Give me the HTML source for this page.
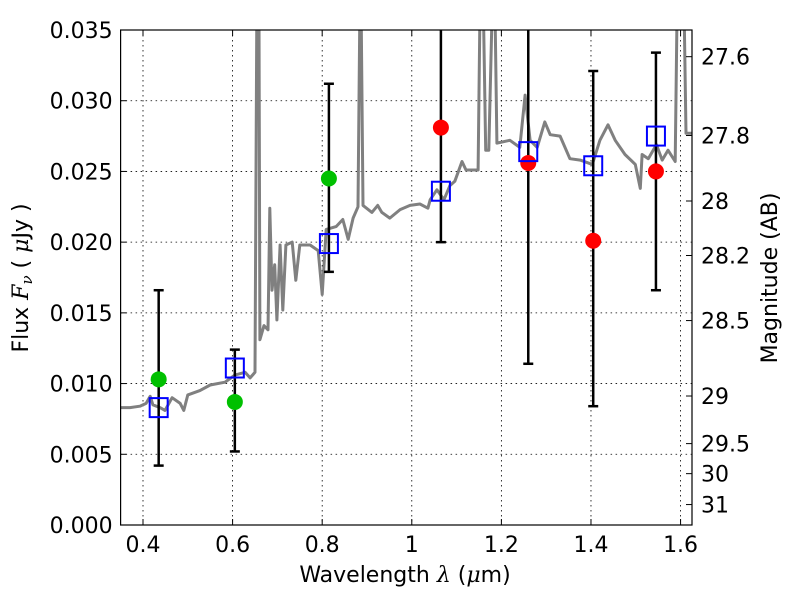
<!DOCTYPE html>
<html><head><meta charset="utf-8"><style>
body{margin:0;background:#fff}
svg text{font-family:"DejaVu Sans","Liberation Sans",sans-serif;fill:#000}
</style></head><body>
<svg id="chart" width="800" height="600" viewBox="0 0 800 600" xmlns="http://www.w3.org/2000/svg">
<defs><clipPath id="pc"><rect x="120.6" y="30" width="571.4" height="495"/></clipPath></defs>
<rect x="0" y="0" width="800" height="600" fill="#fff"/>
<g id="grid"></g>
<g id="plot" clip-path="url(#pc)"></g>
<rect x="120.6" y="30" width="571.4" height="495" fill="none" stroke="#000" stroke-width="1.2"/>
<g id="axes"></g>
<text x="405" y="582" text-anchor="middle" font-size="22">Wavelength  <tspan font-style="italic" font-family="DejaVu Serif,serif">λ</tspan> (<tspan font-style="italic" font-family="DejaVu Serif,serif">μ</tspan>m)</text>
<text transform="translate(28,278) rotate(-90)" text-anchor="middle" font-size="22">Flux  <tspan font-style="italic" font-family="DejaVu Serif,serif">F<tspan font-size="15" dy="4">ν</tspan></tspan><tspan dy="-4">  ( </tspan><tspan font-style="italic" font-family="DejaVu Serif,serif">μ</tspan>Jy )</text>
<text transform="translate(777,278) rotate(-90)" text-anchor="middle" font-size="22">Magnitude (AB)</text>
</svg>
<script>
const specLam=[0.350,0.371,0.393,0.407,0.416,0.422,0.438,0.449,0.465,0.483,0.491,0.500,0.527,0.550,0.583,0.605,0.628,0.639,0.650,0.654,0.659,0.661,0.670,0.679,0.683,0.688,0.694,0.699,0.706,0.712,0.719,0.733,0.741,0.750,0.773,0.791,0.800,0.809,0.831,0.846,0.858,0.869,0.880,0.884,0.887,0.891,0.911,0.924,0.933,0.951,0.974,0.996,1.018,1.036,1.041,1.056,1.072,1.085,1.096,1.112,1.121,1.148,1.152,1.160,1.165,1.172,1.179,1.186,1.190,1.219,1.241,1.253,1.264,1.280,1.297,1.309,1.331,1.353,1.376,1.403,1.420,1.438,1.454,1.476,1.499,1.510,1.514,1.528,1.546,1.559,1.572,1.588,1.592,1.608,1.612,1.626];
const specFlux=[0.0083,0.0083,0.0084,0.0086,0.0091,0.0085,0.0083,0.0081,0.0090,0.0086,0.0081,0.0092,0.0095,0.0099,0.0101,0.0106,0.0108,0.0104,0.0108,0.036,0.036,0.0131,0.0141,0.0138,0.0224,0.0166,0.0184,0.0145,0.0198,0.0152,0.0198,0.0200,0.0173,0.0198,0.0198,0.0194,0.0163,0.0209,0.0211,0.0216,0.0202,0.0217,0.0225,0.036,0.036,0.0226,0.0221,0.0226,0.0221,0.0217,0.0223,0.0226,0.0227,0.0224,0.0230,0.0237,0.0230,0.0240,0.0243,0.0257,0.0251,0.0251,0.036,0.036,0.0265,0.0265,0.036,0.036,0.0270,0.0272,0.0267,0.0304,0.0272,0.0267,0.0285,0.0276,0.0275,0.0259,0.0258,0.0255,0.0272,0.0283,0.0272,0.0262,0.0255,0.0238,0.0262,0.0259,0.0269,0.0258,0.0265,0.0257,0.036,0.036,0.0277,0.0277];
const obsLam=[0.435,0.605,0.815,1.065,1.26,1.405,1.545];
const obsFlux=[0.0103,0.0087,0.0245,0.0281,0.0256,0.0201,0.0250];
const obsColor=['#00c000','#00c000','#00c000','#ff0000','#ff0000','#ff0000','#ff0000'];
const errLo=[0.0042,0.0052,0.0179,0.0200,0.0114,0.0084,0.0166];
const errHi=[0.0166,0.0124,0.0312,0.0400,0.0400,0.0321,0.0334];
const modelFlux=[0.0083,0.0111,0.0199,0.0236,0.0264,0.0254,0.0275];
const xTicks=[0.4,0.6,0.8,1.0,1.2,1.4,1.6];
const xTickLabels=['0.4','0.6','0.8','1','1.2','1.4','1.6'];
const yTicks=[0,0.005,0.010,0.015,0.020,0.025,0.030,0.035];
const yTickLabels=['0.000','0.005','0.010','0.015','0.020','0.025','0.030','0.035'];
const magTicks=[27.6,27.8,28,28.2,28.5,29,29.5,30,31];

const X0=120.6,X1=692,Y0=525,Y1=30,LMIN=0.35,LMAX=1.6255,FMAX=0.035;
const sx=l=>X0+(l-LMIN)/(LMAX-LMIN)*(X1-X0);
const sy=f=>Y0-f/FMAX*(Y0-Y1);
const NS='http://www.w3.org/2000/svg';
function mk(parent,tag,attrs){const e=document.createElementNS(NS,tag);for(const k in attrs)e.setAttribute(k,attrs[k]);parent.appendChild(e);return e;}
const grid=document.getElementById('grid'),plot=document.getElementById('plot'),axes=document.getElementById('axes');
xTicks.forEach((t,i)=>{
 const g=mk(grid,'line',{x1:sx(t),x2:sx(t),y1:Y1,y2:Y0,stroke:'#000','stroke-width':0.8,'stroke-dasharray':'1.5,3.5'});
 
 
 mk(axes,'line',{x1:sx(t),x2:sx(t),y1:Y0,y2:Y0-6,stroke:'#000'});
 mk(axes,'line',{x1:sx(t),x2:sx(t),y1:Y1,y2:Y1+6,stroke:'#000'});
 const tx=mk(axes,'text',{x:sx(t),y:Y0+27,'text-anchor':'middle','font-size':22});
 tx.textContent=xTickLabels[i];
 
 
});
yTicks.forEach((t,i)=>{
 if(t>0&&t<FMAX){const g=mk(grid,'line',{x1:X0,x2:X1,y1:sy(t),y2:sy(t),stroke:'#000','stroke-width':0.8,'stroke-dasharray':'1.5,3.5'});
 
 }
 mk(axes,'line',{x1:X0,x2:X0+6,y1:sy(t),y2:sy(t),stroke:'#000'});
 const tx=mk(axes,'text',{x:X0-8,y:sy(t)+8,'text-anchor':'end','font-size':22});
 tx.textContent=yTickLabels[i];
 
 
});
magTicks.forEach(m=>{
 const f=Math.pow(10,(23.9-m)/2.5);const y=sy(f);
 mk(axes,'line',{x1:X1,x2:X1-6,y1:y,y2:y,stroke:'#000'});
 const tx=mk(axes,'text',{x:X1+9,y:y+8,'text-anchor':'start','font-size':22});
 tx.textContent=String(m);
 
 
});
const pts=specLam.map((l,i)=>sx(l).toFixed(1)+','+sy(specFlux[i]).toFixed(1)).join(' ');
const sp=mk(plot,'polyline',{points:pts,fill:'none',stroke:'#808080','stroke-width':3,'stroke-linejoin':'round'});


obsLam.forEach((l,i)=>{
 const x=sx(l);
 const e=mk(plot,'line',{x1:x,x2:x,y1:sy(errLo[i]),y2:sy(errHi[i]),stroke:'#000','stroke-width':2.5});
 
 
 [errLo[i],errHi[i]].forEach(v=>mk(plot,'line',{x1:x-5,x2:x+5,y1:sy(v),y2:sy(v),stroke:'#000','stroke-width':2.5}));
});
obsLam.forEach((l,i)=>{
 const c=mk(plot,'circle',{cx:sx(l),cy:sy(obsFlux[i]),r:8,fill:obsColor[i]});
 
 
});
obsLam.forEach((l,i)=>{
 const r=mk(plot,'rect',{x:sx(l)-9,y:sy(modelFlux[i])-9.5,width:18,height:19,fill:'none',stroke:'#0000ff','stroke-width':2});
 
 
});
</script>
</body></html>
